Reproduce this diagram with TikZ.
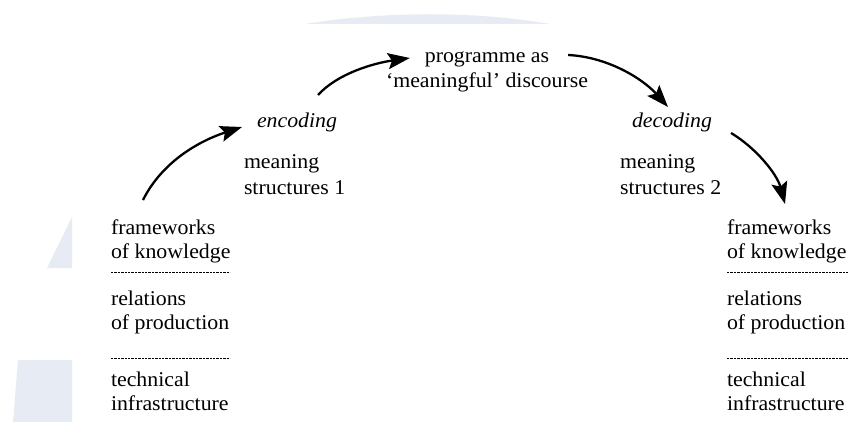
\documentclass[tikz,border=0pt]{standalone}
\usepackage{fontspec}
\setmainfont[FakeStretch=1.04]{Liberation Serif}
\usetikzlibrary{arrows.meta,calc}
\definecolor{bgblue}{HTML}{E7EBF3}
\begin{document}
\begin{tikzpicture}[x=1pt,y=-1pt,
  lbl/.style={inner sep=0pt, outer sep=0pt, font=\fontsize{21}{24}\selectfont, anchor=base west},
  ctr/.style={lbl, anchor=base},
  flow/.style={line width=2.3pt, -{Stealth[length=22pt,width=16pt,inset=4pt]}},
  sepline/.style={line width=0.9pt, dash pattern=on 2.4pt off 1pt}]
\useasboundingbox (0,0) rectangle (848,422);
% faint background shapes
\fill[bgblue] (305,24) .. controls (385,11) and (475,11) .. (550,24) -- cycle;
\fill[bgblue] (72,217) -- (47,268) -- (72,268) -- cycle;
\fill[bgblue] (18,360) -- (72,360) -- (72,422) -- (13,422) -- cycle;
% top labels
\node[ctr] (prog1) at (487,63) {programme as};
\node[ctr] (prog2) at (487,88) {‘meaningful’ discourse};
\node[lbl] (enc) at (257,128) {\itshape encoding};
\node[lbl] (ms1a) at (244,168) {meaning};
\node[lbl] (ms1b) at (244,194) {structures 1};
\node[lbl] (dec) at (632,128) {\itshape decoding};
\node[lbl] (ms2a) at (620,168) {meaning};
\node[lbl] (ms2b) at (620,194) {structures 2};
% left stack
\node[lbl] (fw1) at (111,234) {frameworks};
\node[lbl] (kn1) at (111,258) {of knowledge};
\node[lbl] (re1) at (111,305) {relations};
\node[lbl] (pr1) at (111,329) {of production};
\node[lbl] (te1) at (111,386) {technical};
\node[lbl] (in1) at (111,410) {infrastructure};
\draw[sepline] (111,272) -- (230,272);
\draw[sepline] (111,358) -- (230,358);
% right stack
\node[lbl] (fw2) at (727,234) {frameworks};
\node[lbl] (kn2) at (727,258) {of knowledge};
\node[lbl] (re2) at (727,305) {relations};
\node[lbl] (pr2) at (727,329) {of production};
\node[lbl] (te2) at (727,386) {technical};
\node[lbl] (in2) at (727,410) {infrastructure};
\draw[sepline] (727,272) -- (848,272);
\draw[sepline] (727,358) -- (848,358);
% arrows
\draw[flow] ($(fw1.base west)+(32,-34)$) .. controls +(20,-40) and +(-40,13) .. ($(enc.base west)+(-15,-1)$);
\draw[flow] ($(enc.base west)+(61,-33)$) .. controls +(20,-22) and +(-35,5) .. ($(prog1.base west)+(-15,-5)$);
\draw[flow] ($(prog1.base east)+(19,-8)$) .. controls +(40,2) and +(-25,-28) .. ($(dec.base west)+(36,-21)$);
\draw[flow] ($(dec.base east)+(19,5)$) .. controls +(25,15) and +(-8,-30) .. ($(fw2.base west)+(58,-30)$);
\end{tikzpicture}
\end{document}
